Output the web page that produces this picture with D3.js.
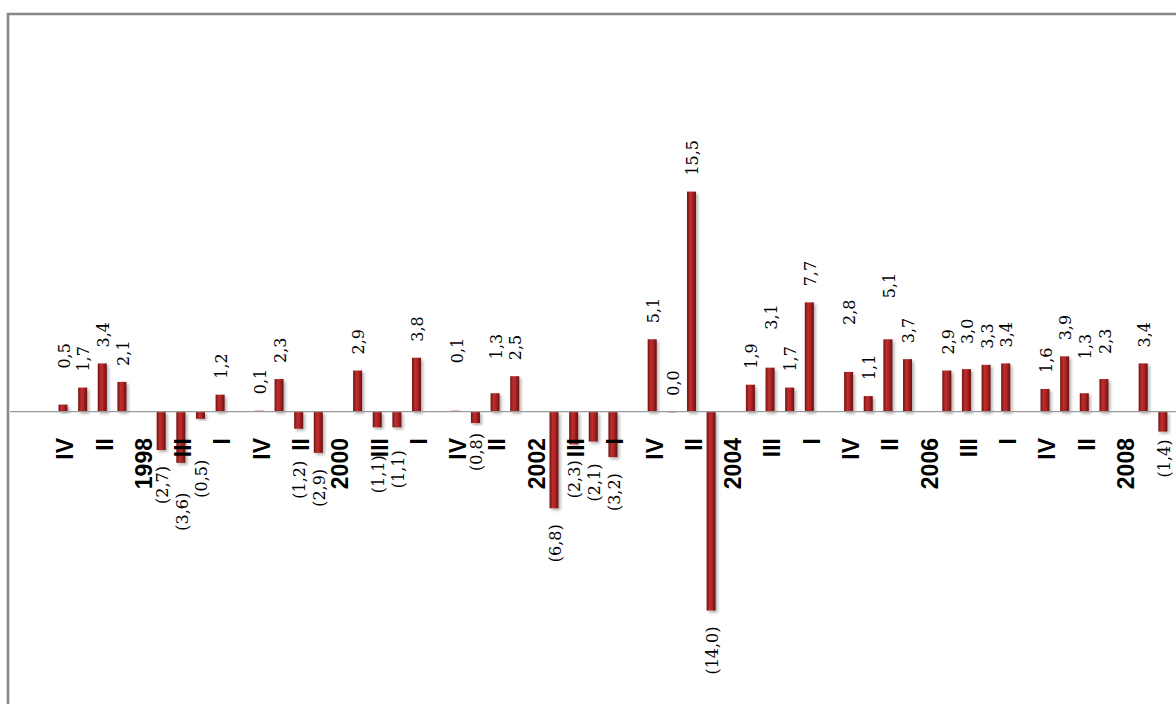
<!DOCTYPE html>
<html>
<head>
<meta charset="utf-8">
<script src="https://cdnjs.cloudflare.com/ajax/libs/d3/7.8.5/d3.min.js"></script>
<style>
  body { margin: 0; background: #fff; }
  svg { display: block; }
</style>
</head>
<body>
<script>
// quarters in the sheet run IV..I, then a year row with no value
var categories = ["IV", "III", "II", "I", "1998",
    "IV", "III", "II", "I", "1999",
    "IV", "III", "II", "I", "2000",
    "IV", "III", "II", "I", "2001",
    "IV", "III", "II", "I", "2002",
    "IV", "III", "II", "I", "2003",
    "IV", "III", "II", "I", "2004",
    "IV", "III", "II", "I", "2005",
    "IV", "III", "II", "I", "2006",
    "IV", "III", "II", "I", "2007",
    "IV", "III", "II", "I", "2008",
    "IV", "III"];

var values = [0.5, 1.7, 3.4, 2.1, null,
    -2.7, -3.6, -0.5, 1.2, null,
    0.1, 2.3, -1.2, -2.9, null,
    2.9, -1.1, -1.1, 3.8, null,
    0.1, -0.8, 1.3, 2.5, null,
    -6.8, -2.3, -2.1, -3.2, null,
    5.1, 0.0, 15.5, -14.0, null,
    1.9, 3.1, 1.7, 7.7, null,
    2.8, 1.1, 5.1, 3.7, null,
    2.9, 3.0, 3.3, 3.4, null,
    1.6, 3.9, 1.3, 2.3, null,
    3.4, -1.4];

var yDomain = [-20, 20];

// labels that were dragged by hand in the original (extra px away from bar)
var labelNudge = {0: 20, 6: 14, 7: 25, 12: 16, 16: 12, 17: 7, 20: 31, 21: -6, 22: 18,
    27: 6, 36: 22, 40: 31, 42: 25, 46: 9, 52: 18, 53: 9, 56: -8};

const w = 1176,
    h = 704;
const svg = d3.select("body")
    .append("svg")
    .attr("width", w)
    .attr("height", h);

var defs = svg.append("defs");
var grad = defs.append("linearGradient")
    .attr("id", "barGrad")
    .attr("x1", "0%").attr("x2", "100%")
    .attr("y1", "0%").attr("y2", "0%");
grad.append("stop").attr("offset", "0%").attr("stop-color", "#74110f");
grad.append("stop").attr("offset", "35%").attr("stop-color", "#bf2f2e");
grad.append("stop").attr("offset", "60%").attr("stop-color", "#ad2526");
grad.append("stop").attr("offset", "100%").attr("stop-color", "#6a0f0e");

var shadow = defs.append("filter")
    .attr("id", "shadow")
    .attr("x", "-50%").attr("y", "-10%")
    .attr("width", "200%").attr("height", "130%");
shadow.append("feDropShadow")
    .attr("dx", 2).attr("dy", 2)
    .attr("stdDeviation", 1.6)
    .attr("flood-color", "#000")
    .attr("flood-opacity", 0.3);

// chart frame (right and bottom edge fall outside the picture)
svg.append("rect")
    .attr("x", 8)
    .attr("y", 14)
    .attr("width", 1300)
    .attr("height", 900)
    .attr("fill", "#fff")
    .attr("stroke", "#878787")
    .attr("stroke-width", 2.5);

var step = 19.64;
var xScale = d3.scaleBand()
    .domain(d3.range(categories.length))
    .range([63 - step / 2, 63 - step / 2 + step * categories.length])
    .padding(0);
var barW = 9;
var cx = (i) => xScale(i) + xScale.bandwidth() / 2;

var yScale = d3.scaleLinear()
    .domain(yDomain)
    .range([411.7 + 284, 411.7 - 284]);

var fmt = function (v) {
    var s = d3.format(".1f")(Math.abs(v)).replace(".", ",");
    return v < 0 ? "(" + s + ")" : s;
};

var data = values.map((v, i) => ({ i: i, v: v })).filter((d) => d.v !== null);

svg.selectAll(".bar")
    .data(data)
    .enter()
    .append("rect")
    .attr("class", "bar")
    .attr("x", (d) => cx(d.i) - barW / 2)
    .attr("y", (d) => Math.min(yScale(d.v), yScale(0)))
    .attr("width", barW)
    .attr("height", (d) => Math.max(1, Math.abs(yScale(d.v) - yScale(0))))
    .attr("fill", (d) => Math.abs(d.v) < 0.2 ? "#e79a9a" : "url(#barGrad)")
    .attr("filter", (d) => Math.abs(d.v) < 0.2 ? null : "url(#shadow)");

// zero line + category labels (every second one shown), drawn over the bars
var xAxis = d3.axisBottom(xScale)
    .tickValues(d3.range(0, 56, 2))
    .tickSize(0)
    .tickFormat((i) => categories[i]);

var axisG = svg.append("g")
    .attr("transform", "translate(0," + yScale(0) + ")")
    .call(xAxis);
axisG.select(".domain")
    .attr("d", "M10,0H" + w)
    .attr("stroke", "#9a9a9a")
    .attr("stroke-width", 1.2);
axisG.selectAll(".tick text")
    .attr("transform", "rotate(-90)")
    .attr("x", -26.3)
    .attr("y", 0)
    .attr("dy", "0.45em")
    .attr("text-anchor", "end")
    .attr("font-family", "'Liberation Sans', Arial, sans-serif")
    .attr("font-weight", "bold")
    .attr("font-size", 23)
    .attr("fill", "#000");

svg.selectAll(".val")
    .data(data)
    .enter()
    .append("text")
    .attr("class", "val")
    .attr("transform", function (d) {
        var extra = labelNudge[d.i] || 0;
        var y = d.v >= 0 ? yScale(d.v) - 16 - extra : yScale(d.v) + 16 + extra;
        return "translate(" + cx(d.i) + "," + y + ") rotate(-90)";
    })
    .attr("dy", "0.42em")
    .attr("text-anchor", (d) => d.v >= 0 ? "start" : "end")
    .attr("font-family", "'DejaVu Serif', serif")
    .attr("font-size", 16)
    .attr("fill", "#000")
    .text((d) => fmt(d.v));
</script>
</body>
</html>
